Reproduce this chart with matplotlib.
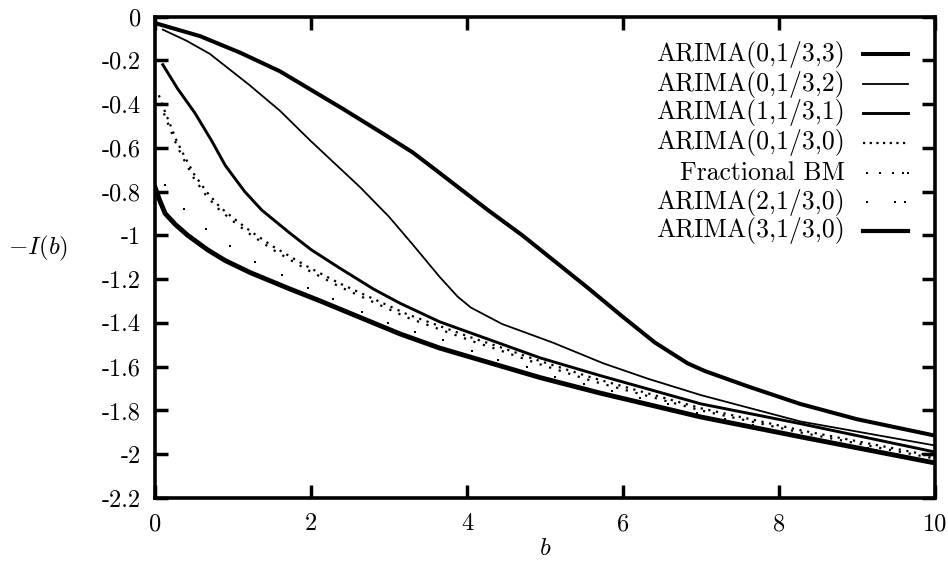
import matplotlib
matplotlib.use("Agg")
import matplotlib.pyplot as plt
from matplotlib.lines import Line2D

plt.rcParams['font.family'] = ['cmr10', 'DejaVu Serif']
plt.rcParams['mathtext.fontset'] = 'cm'
plt.rcParams['axes.unicode_minus'] = False
plt.rcParams['axes.formatter.use_mathtext'] = True

# ---- data ----
x_033 = [0.0, 0.58, 1.09, 1.6, 2.0, 2.4, 2.9, 3.3, 3.65, 3.85, 4.27, 4.71, 5.13, 5.55, 5.99,
         6.41, 6.83, 7.05, 7.6, 8.27, 9.0, 10.0]
y_033 = [-0.03, -0.09, -0.165, -0.25, -0.335, -0.42, -0.53, -0.62, -0.715, -0.77, -0.885,
         -1.0, -1.12, -1.24, -1.37, -1.49, -1.585, -1.62, -1.69, -1.77, -1.84, -1.915]

x_032 = [0.1, 0.4, 0.7, 1.2, 1.6, 2.0, 2.63, 3.0, 3.3, 3.65, 3.88, 4.05, 4.45, 5.1, 5.75,
         6.32, 7.0, 8.27, 10.0]
y_032 = [-0.06, -0.11, -0.17, -0.31, -0.43, -0.57, -0.78, -0.915, -1.04, -1.19, -1.28,
         -1.33, -1.405, -1.49, -1.585, -1.655, -1.73, -1.85, -1.96]

x_131 = [0.1, 0.29, 0.51, 0.73, 0.9, 1.15, 1.37, 1.73, 2.0, 2.37, 2.8, 3.14, 3.65, 4.94,
         5.7, 7.0, 8.27, 10.0]
y_131 = [-0.22, -0.33, -0.44, -0.57, -0.68, -0.80, -0.885, -0.99, -1.065, -1.15, -1.245,
         -1.31, -1.395, -1.56, -1.64, -1.77, -1.86, -1.99]

x_030 = [0.05, 0.1, 0.19, 0.28, 0.38, 0.5, 0.66, 0.83, 1.0, 1.22, 1.51, 1.94, 2.37, 2.8,
         3.23, 4.08, 4.42, 4.9, 5.6, 7.0, 8.27, 10.0]
y_030 = [-0.36, -0.41, -0.49, -0.57, -0.64, -0.72, -0.80, -0.87, -0.92, -0.98, -1.05, -1.14,
         -1.22, -1.29, -1.36, -1.47, -1.51, -1.57, -1.65, -1.79, -1.89, -2.01]

x_fbm = [0.05, 0.1, 0.19, 0.28, 0.38, 0.5, 0.66, 0.83, 1.0, 1.22, 1.51, 1.94, 2.37, 2.8,
         3.23, 4.08, 4.42, 4.9, 5.6, 7.0, 8.27, 10.0]
y_fbm = [-0.37, -0.43, -0.51, -0.59, -0.66, -0.74, -0.82, -0.885, -0.935, -0.995, -1.065,
         -1.155, -1.235, -1.305, -1.375, -1.485, -1.525, -1.585, -1.665, -1.80, -1.90, -2.02]

x_230 = [0.13, 0.37, 0.65, 0.96, 1.28, 1.63, 1.96, 2.28, 2.65, 2.99, 3.33, 3.69, 4.06, 4.40,
         4.77, 5.13, 5.5, 5.86, 6.22, 6.58, 6.95, 7.31, 7.67, 8.04, 8.4, 8.76, 9.14, 9.51, 9.83]
y_230 = [-0.77, -0.88, -0.97, -1.05, -1.12, -1.18, -1.24, -1.29, -1.35, -1.40, -1.44, -1.48,
         -1.53, -1.57, -1.60, -1.645, -1.68, -1.71, -1.745, -1.77, -1.81, -1.84, -1.865,
         -1.90, -1.925, -1.95, -1.97, -2.0, -2.02]

x_330 = [0.0, 0.06, 0.13, 0.26, 0.42, 0.67, 0.9, 1.22, 1.73, 2.12, 2.8, 3.14, 3.65, 4.94,
         5.7, 7.0, 8.27, 10.0]
y_330 = [-0.78, -0.84, -0.9, -0.95, -1.0, -1.065, -1.115, -1.17, -1.245, -1.30, -1.40,
         -1.45, -1.515, -1.65, -1.72, -1.83, -1.92, -2.04]

labels = ['ARIMA(0,1/3,3)', 'ARIMA(0,1/3,2)', 'ARIMA(1,1/3,1)', 'ARIMA(0,1/3,0)',
          'Fractional BM', 'ARIMA(2,1/3,0)', 'ARIMA(3,1/3,0)']

xticks = [0, 2, 4, 6, 8, 10]
xtick_labels = ['0', '2', '4', '6', '8', '10']
yticks = [0, -0.2, -0.4, -0.6, -0.8, -1, -1.2, -1.4, -1.6, -1.8, -2, -2.2]
ytick_labels = ['0', '-0.2', '-0.4', '-0.6', '-0.8', '-1', '-1.2', '-1.4', '-1.6', '-1.8',
                '-2', '-2.2']

# ---- figure ----
fig = plt.figure(figsize=(9.48, 5.71), dpi=100)
ax = fig.add_axes([155/948, 1-498/571, (935-155)/948, (498-16.5)/571])

ax.plot(x_033, y_033, color='black', lw=2.9)
ax.plot(x_032, y_032, color='black', lw=1.3)
ax.plot(x_131, y_131, color='black', lw=2.1)
ax.plot(x_030, y_030, color='black', lw=1.6, linestyle=(0, (1, 2.5)))
ax.plot(x_fbm, y_fbm, color='black', lw=1.6, linestyle=(1.5, (1, 3.5)))
ax.plot(x_230, y_230, color='black', linestyle='none', marker='s', markersize=1.8,
        markeredgewidth=0)
ax.plot(x_330, y_330, color='black', lw=3.5)

ax.set_xlim(0, 10)
ax.set_ylim(-2.2, 0)
ax.set_xticks(xticks, xtick_labels)
ax.set_yticks(yticks, ytick_labels)
ax.tick_params(direction='in', length=9.5, width=2.5, labelsize=17.5, top=True, right=True,
               pad=10)
ax.tick_params(axis='x', pad=11)
for s in ax.spines.values():
    s.set_linewidth(2.6)

ax.set_xlabel(r'$b$', fontsize=18, labelpad=2)
fig.text(38/948, 1-248/571, r'$-I(b)$', fontsize=18, ha='center', va='center')

# ---- manual legend (right-aligned text, sample to the right) ----
rows_py = [54, 84, 113, 143, 173, 202, 231]
tx = 845
lx0, lx1 = 863, 908
trans = fig.transFigure
styles = [dict(lw=2.9), dict(lw=1.3), dict(lw=2.1), dict(lw=1.6, linestyle=(0, (1, 2.0)))]
for i, (lab, py) in enumerate(zip(labels, rows_py)):
    yf = 1 - py/571
    fig.text(tx/948, yf, lab, fontsize=18.5, ha='right', va='center')
    if i < 4:
        fig.add_artist(Line2D([lx0/948, lx1/948], [yf, yf], color='black', transform=trans,
                              **styles[i]))
    elif i == 4:
        xs = [867, 880, 893, 903, 908]
        fig.add_artist(Line2D([v/948 for v in xs], [yf]*len(xs), color='black', ls='none',
                              marker='s', markersize=2, mew=0, transform=trans))
    elif i == 5:
        xs = [867, 895, 905]
        fig.add_artist(Line2D([v/948 for v in xs], [yf]*len(xs), color='black', ls='none',
                              marker='s', markersize=2, mew=0, transform=trans))
    else:
        fig.add_artist(Line2D([lx0/948, lx1/948], [yf, yf], color='black', lw=3.0,
                              transform=trans))

fig.savefig('out.png', dpi=100)
